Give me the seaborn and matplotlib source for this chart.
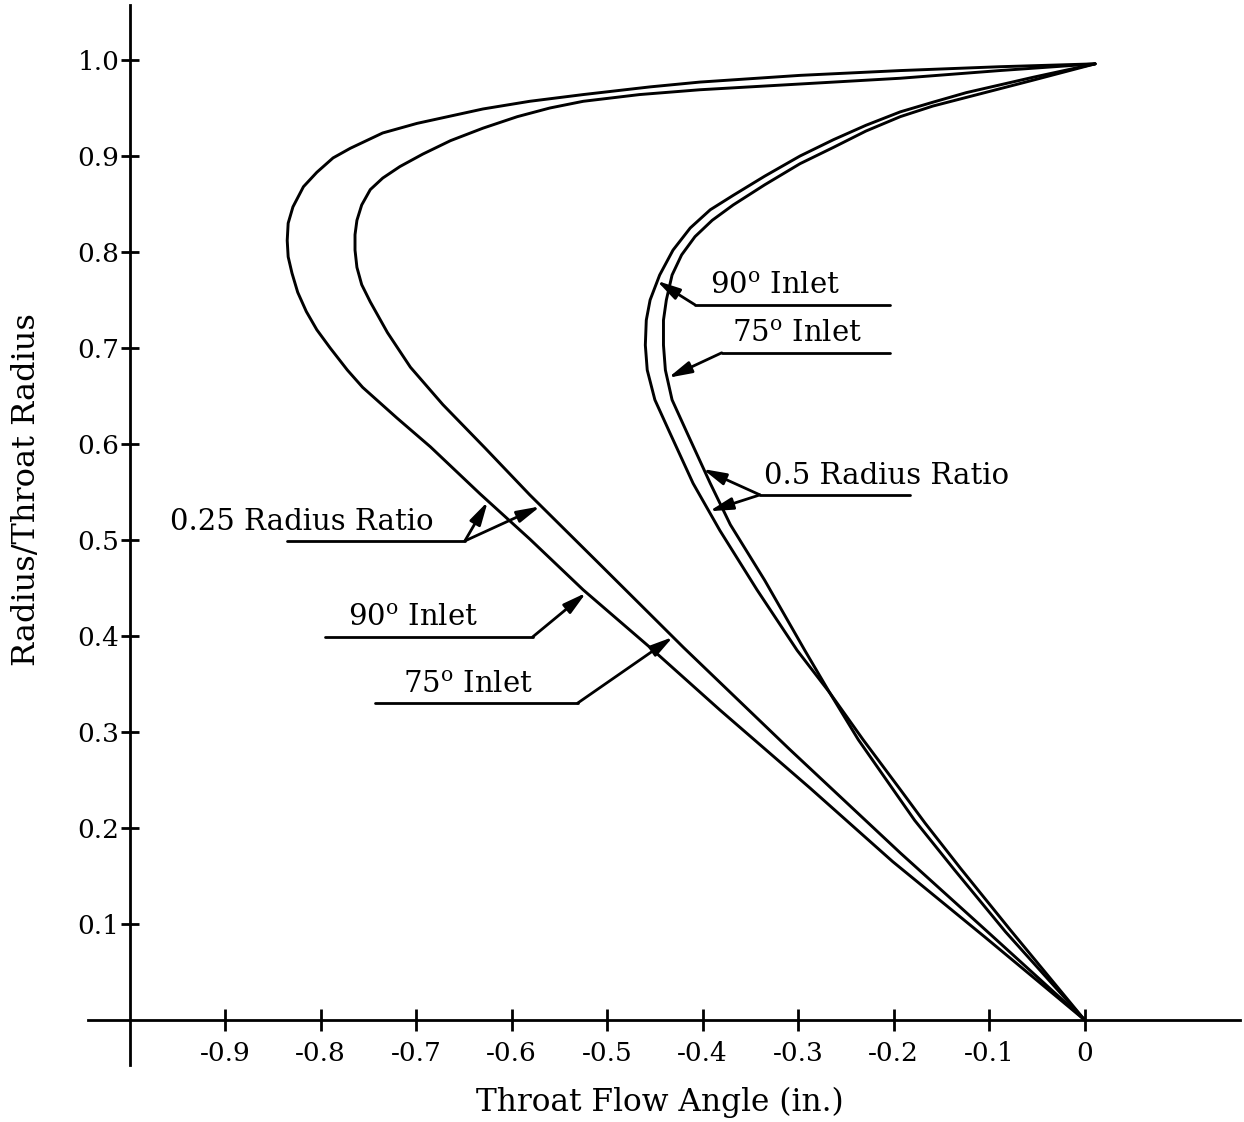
import numpy as np
import pandas as pd
import seaborn as sns
import matplotlib.pyplot as plt

# values (x = throat flow angle, y = radius/throat radius)
# 0.25 radius ratio, 90 deg inlet (outer curve)
x_r025_90 = [0.011, -0.089, -0.193, -0.298, -0.403, -0.455, -0.525, -0.581, -0.630, -0.699,
             -0.735, -0.769, -0.787, -0.804, -0.818, -0.829, -0.834, -0.835, -0.834, -0.830,
             -0.824, -0.815, -0.804, -0.790, -0.772, -0.756, -0.720, -0.685, -0.633, -0.581,
             -0.525, -0.455, -0.382, -0.288, -0.201, -0.104, 0.0]
y_r025_90 = [0.996, 0.993, 0.989, 0.984, 0.977, 0.972, 0.964, 0.957, 0.949, 0.934,
             0.924, 0.908, 0.898, 0.883, 0.868, 0.847, 0.830, 0.812, 0.795, 0.778,
             0.758, 0.738, 0.719, 0.700, 0.677, 0.659, 0.627, 0.597, 0.548, 0.501,
             0.448, 0.388, 0.323, 0.242, 0.165, 0.086, 0.0]
# 0.25 radius ratio, 75 deg inlet
x_r025_75 = [0.011, -0.089, -0.193, -0.298, -0.403, -0.466, -0.525, -0.560, -0.594, -0.630,
             -0.664, -0.693, -0.717, -0.735, -0.748, -0.757, -0.762, -0.764, -0.764, -0.762,
             -0.757, -0.748, -0.730, -0.706, -0.672, -0.628, -0.581, -0.510, -0.420, -0.309,
             -0.193, -0.104, 0.0]
y_r025_75 = [0.996, 0.989, 0.981, 0.975, 0.969, 0.964, 0.957, 0.950, 0.941, 0.929,
             0.916, 0.902, 0.889, 0.877, 0.865, 0.849, 0.833, 0.818, 0.802, 0.784,
             0.766, 0.748, 0.716, 0.680, 0.641, 0.596, 0.547, 0.477, 0.388, 0.282,
             0.174, 0.094, 0.0]
# 0.5 radius ratio, 90 deg inlet
x_r05_90 = [0.011, -0.054, -0.124, -0.159, -0.193, -0.229, -0.263, -0.298, -0.335, -0.368,
            -0.392, -0.413, -0.431, -0.445, -0.455, -0.459, -0.460, -0.458, -0.450, -0.434,
            -0.410, -0.382, -0.343, -0.301, -0.267, -0.232, -0.193, -0.167, -0.130, -0.078, 0.0]
y_r05_90 = [0.996, 0.982, 0.966, 0.956, 0.946, 0.932, 0.917, 0.900, 0.879, 0.859,
            0.844, 0.825, 0.802, 0.776, 0.750, 0.729, 0.703, 0.677, 0.646, 0.611,
            0.559, 0.510, 0.448, 0.385, 0.341, 0.292, 0.240, 0.205, 0.158, 0.094, 0.0]
# 0.5 radius ratio, 75 deg inlet
x_r05_75 = [0.011, -0.054, -0.124, -0.159, -0.193, -0.229, -0.263, -0.298, -0.335, -0.368,
            -0.390, -0.408, -0.422, -0.432, -0.438, -0.441, -0.441, -0.439, -0.432, -0.416,
            -0.392, -0.371, -0.335, -0.293, -0.267, -0.237, -0.204, -0.178, -0.136, -0.083, 0.0]
y_r05_75 = [0.996, 0.979, 0.961, 0.952, 0.941, 0.926, 0.909, 0.892, 0.870, 0.849,
            0.833, 0.816, 0.797, 0.776, 0.750, 0.729, 0.703, 0.677, 0.646, 0.611,
            0.559, 0.516, 0.458, 0.385, 0.341, 0.292, 0.245, 0.208, 0.156, 0.092, 0.0]

x_ticks = [-0.9, -0.8, -0.7, -0.6, -0.5, -0.4, -0.3, -0.2, -0.1, 0.0]
x_tick_labels = ["-0.9", "-0.8", "-0.7", "-0.6", "-0.5", "-0.4", "-0.3", "-0.2", "-0.1", "0"]
y_ticks = [0.1, 0.2, 0.3, 0.4, 0.5, 0.6, 0.7, 0.8, 0.9, 1.0]
y_tick_labels = ["0.1", "0.2", "0.3", "0.4", "0.5", "0.6", "0.7", "0.8", "0.9", "1.0"]

curves = [("0.25 / 90", x_r025_90, y_r025_90),
          ("0.25 / 75", x_r025_75, y_r025_75),
          ("0.5 / 90", x_r05_90, y_r05_90),
          ("0.5 / 75", x_r05_75, y_r05_75)]
df = pd.concat([pd.DataFrame({"angle": xs, "radius": ys, "curve": name})
                for name, xs, ys in curves], ignore_index=True)

sns.set_theme(style="ticks")
plt.rcParams["font.family"] = ["DejaVu Serif"]
plt.rcParams["mathtext.fontset"] = "dejavuserif"
plt.rcParams["axes.unicode_minus"] = False
plt.rcParams["text.color"] = "black"
plt.rcParams["axes.labelcolor"] = "black"

fig = plt.figure(figsize=(12.44, 11.22), dpi=100)
ax = fig.add_axes([88 / 1244, 57 / 1122, 1152 / 1244, 1060 / 1122])

sns.lineplot(data=df, x="angle", y="radius", hue="curve",
             palette={name: "black" for name, _, _ in curves},
             sort=False, estimator=None, legend=False, lw=2.1,
             solid_joinstyle="round", ax=ax)

ax.set_xlim(-1.0436, 0.1627)
ax.set_ylim(-0.0469, 1.0573)

# axes cross at x=-1, y=0
for side in ["top", "right"]:
    ax.spines[side].set_visible(False)
ax.spines["left"].set_position(("data", -1.0))
ax.spines["bottom"].set_position(("data", 0.0))
for side in ["left", "bottom"]:
    ax.spines[side].set_linewidth(2)
    ax.spines[side].set_color("black")

ax.set_xticks(x_ticks)
ax.set_xticklabels(x_tick_labels)
ax.set_yticks(y_ticks)
ax.set_yticklabels(y_tick_labels)
ax.tick_params(axis="x", direction="inout", length=16, width=2, pad=7, labelsize=19, colors="black")
ax.tick_params(axis="y", direction="inout", length=13, width=2, pad=1, labelsize=19, colors="black")

ax.set_xlabel("Throat Flow Angle (in.)", fontsize=22.5)
ax.set_ylabel("Radius/Throat Radius", fontsize=23)
ax.xaxis.set_label_coords(0.4965, -0.021)
ax.yaxis.set_label_coords(-0.040, 0.5425)

# callouts: label, text centre x, shelf y, shelf x0, shelf x1, corner x, arrow tips
sup_o = "$^{\\mathrm{o}}$"
callouts = [
    ("90" + sup_o + " Inlet", -0.324, 0.745, -0.408, -0.204, -0.408, [(-0.448, 0.770)]),
    ("75" + sup_o + " Inlet", -0.301, 0.695, -0.380, -0.204, -0.380, [(-0.436, 0.669)]),
    ("0.5 Radius Ratio", -0.207, 0.547, -0.340, -0.183, -0.340, [(-0.400, 0.574), (-0.393, 0.530)]),
    ("0.25 Radius Ratio", -0.820, 0.499, -0.835, -0.649, -0.649, [(-0.625, 0.540), (-0.570, 0.535)]),
    ("90" + sup_o + " Inlet", -0.703, 0.399, -0.795, -0.578, -0.578, [(-0.522, 0.445)]),
    ("75" + sup_o + " Inlet", -0.646, 0.330, -0.743, -0.531, -0.531, [(-0.431, 0.399)]),
]
for label, cx, sy, x0, x1, kx, tips in callouts:
    ax.plot([x0, x1], [sy, sy], color="black", lw=2)
    ax.text(cx, sy + 0.011, label, ha="center", va="baseline", fontsize=21)
    for tip in tips:
        ax.annotate("", xy=tip, xytext=(kx, sy),
                    arrowprops=dict(arrowstyle="-|>,head_length=0.7,head_width=0.18",
                                    mutation_scale=20, lw=2, color="black",
                                    shrinkA=0, shrinkB=0))

plt.savefig("out.png", dpi=100, facecolor="white")
